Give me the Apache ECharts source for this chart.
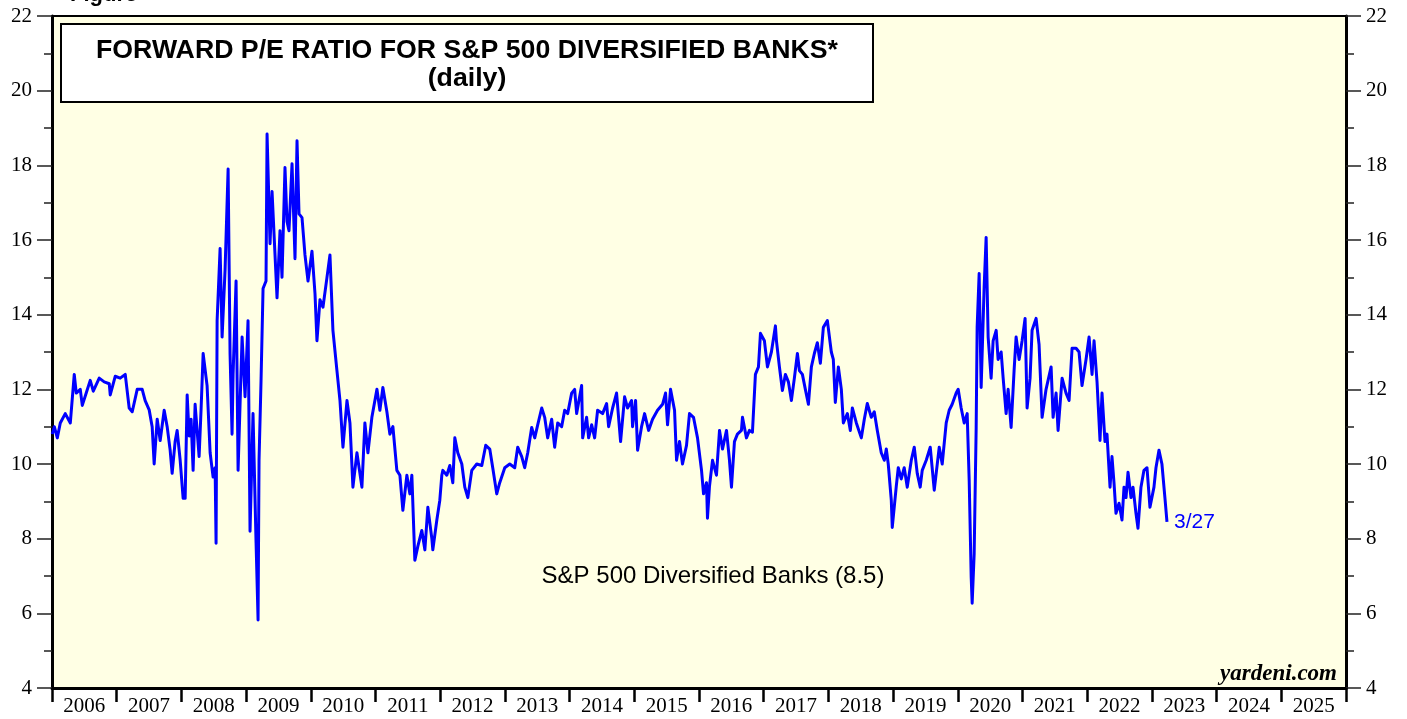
<!DOCTYPE html>
<html><head><meta charset="utf-8">
<script src="https://cdn.jsdelivr.net/npm/echarts@6.0.0/dist/echarts.min.js"></script>
<style>html,body{margin:0;padding:0;background:#fff}#c{width:1407px;height:719px}</style>
</head><body><div id="c"></div>
<script>
const yearLabels = ['2006','2007','2008','2009','2010','2011','2012','2013','2014','2015','2016','2017','2018','2019','2020','2021','2022','2023','2024','2025'];
const titleLine1 = 'FORWARD P/E RATIO FOR S&P 500 DIVERSIFIED BANKS*';
const titleLine2 = '(daily)';
const seriesName = 'S&P 500 Diversified Banks (8.5)';
const lastDateLabel = '3/27';

// decimal year of each observation
const years = [
2006.005,2006.036,2006.082,2006.128,2006.205,2006.283,2006.344,2006.375,2006.437,2006.468,2006.529,2006.591,2006.638,2006.730,2006.807,2006.885,2006.900,2006.977,
2007.054,2007.132,2007.193,2007.240,2007.317,2007.394,2007.440,2007.502,2007.548,2007.579,2007.626,2007.672,2007.734,2007.780,2007.826,2007.857,2007.903,2007.934,2007.981,
2008.027,2008.058,2008.089,2008.120,2008.150,2008.181,2008.212,2008.274,2008.305,2008.336,2008.397,2008.444,2008.490,2008.521,2008.536,2008.552,2008.598,2008.629,2008.675,2008.722,2008.752,2008.783,2008.799,2008.845,2008.876,2008.938,2008.984,
2009.030,2009.061,2009.107,2009.154,2009.185,2009.200,2009.231,2009.262,2009.308,2009.324,2009.370,2009.401,2009.447,2009.478,2009.524,2009.555,2009.601,2009.632,2009.663,2009.710,2009.756,2009.787,2009.818,2009.864,2009.910,2009.957,
2010.018,2010.065,2010.095,2010.142,2010.188,2010.250,2010.296,2010.342,2010.404,2010.451,2010.497,2010.559,2010.605,2010.651,2010.713,2010.790,2010.836,2010.883,2010.944,
2011.022,2011.068,2011.114,2011.176,2011.222,2011.269,2011.330,2011.377,2011.423,2011.485,2011.531,2011.562,2011.608,2011.655,2011.716,2011.763,2011.809,2011.871,2011.886,2011.948,2011.994,
2012.025,2012.041,2012.102,2012.149,2012.195,2012.226,2012.272,2012.334,2012.380,2012.427,2012.488,2012.565,2012.643,2012.704,2012.766,2012.812,2012.874,2012.920,2012.998,
2013.075,2013.152,2013.198,2013.260,2013.306,2013.353,2013.414,2013.461,2013.507,2013.569,2013.615,2013.661,2013.723,2013.769,2013.816,2013.877,2013.924,2013.970,
2014.032,2014.078,2014.109,2014.155,2014.186,2014.202,2014.263,2014.294,2014.341,2014.387,2014.433,2014.510,2014.572,2014.603,2014.665,2014.726,2014.788,2014.850,2014.896,2014.958,2014.973,
2015.020,2015.051,2015.112,2015.159,2015.221,2015.282,2015.359,2015.437,2015.483,2015.514,2015.560,2015.622,2015.653,2015.699,2015.745,2015.807,2015.853,2015.915,2015.977,
2016.039,2016.070,2016.116,2016.131,2016.162,2016.209,2016.270,2016.317,2016.363,2016.425,2016.471,2016.502,2016.548,2016.594,2016.656,2016.672,2016.733,2016.780,2016.826,2016.872,2016.919,2016.950,
2017.011,2017.058,2017.119,2017.181,2017.197,2017.243,2017.289,2017.335,2017.382,2017.428,2017.474,2017.521,2017.552,2017.598,2017.644,2017.691,2017.737,2017.783,2017.829,2017.876,2017.922,2017.984,
2018.045,2018.076,2018.107,2018.154,2018.200,2018.231,2018.293,2018.339,2018.370,2018.432,2018.509,2018.555,2018.601,2018.663,2018.709,2018.756,2018.817,2018.864,2018.895,2018.925,2018.972,2018.987,
2019.049,2019.080,2019.126,2019.172,2019.219,2019.281,2019.327,2019.373,2019.419,2019.450,2019.512,2019.574,2019.636,2019.713,2019.759,2019.821,2019.867,2019.913,2019.975,
2020.006,2020.052,2020.099,2020.145,2020.176,2020.207,2020.222,2020.253,2020.284,2020.299,2020.330,2020.361,2020.407,2020.438,2020.469,2020.515,2020.546,2020.593,2020.623,2020.670,2020.701,2020.747,2020.778,2020.824,2020.870,2020.901,2020.948,2020.994,
2021.040,2021.071,2021.117,2021.148,2021.210,2021.256,2021.303,2021.364,2021.442,2021.473,2021.519,2021.550,2021.612,2021.673,2021.720,2021.766,2021.828,2021.874,2021.920,2021.982,
2022.029,2022.075,2022.106,2022.152,2022.198,2022.229,2022.275,2022.306,2022.353,2022.383,2022.414,2022.445,2022.492,2022.538,2022.569,2022.600,2022.631,2022.677,2022.708,2022.754,2022.785,2022.831,2022.877,2022.924,2022.970,
2023.032,2023.063,2023.109,2023.155,2023.201,2023.233
];

// forward P/E values
const values = [
10.8,11.0,10.7,11.1,11.35,11.1,12.4,11.9,12.0,11.57,11.9,12.24,11.95,12.3,12.2,12.15,11.85,12.35,
12.3,12.4,11.5,11.4,12.0,12.0,11.7,11.45,11.0,10.0,11.2,10.63,11.44,11.0,10.37,9.75,10.6,10.9,10.1,
9.08,9.08,11.85,10.75,11.2,9.83,11.6,10.2,11.5,12.96,12.1,10.3,9.65,9.9,7.88,13.84,15.77,13.4,15.2,17.9,12.96,10.8,12.4,14.9,9.83,13.4,11.8,
13.84,8.2,11.35,7.9,5.82,10.1,12.24,14.7,14.9,18.84,15.9,17.3,15.6,14.45,16.25,15.0,17.94,16.5,16.25,18.04,15.5,18.66,16.7,16.6,15.6,14.9,
15.7,14.56,13.3,14.4,14.2,15.0,15.6,13.58,12.5,11.7,10.45,11.7,11.1,9.38,10.3,9.38,11.1,10.3,11.25,
12.0,11.44,12.05,11.4,10.8,11.0,9.83,9.7,8.76,9.7,9.2,9.7,7.42,7.8,8.22,7.7,8.84,8.0,7.7,8.5,9.03,
9.7,9.83,9.7,9.96,9.5,10.7,10.3,10.0,9.38,9.1,9.83,10.0,9.96,10.5,10.4,9.9,9.2,9.5,9.9,
10.0,9.9,10.45,10.2,9.9,10.3,10.98,10.7,11.05,11.5,11.25,10.7,11.2,10.45,11.1,11.0,11.44,11.35,
11.9,12.0,11.35,11.8,12.1,10.7,11.25,10.7,11.05,10.7,11.44,11.35,11.62,11.0,11.5,11.9,10.6,11.8,11.5,11.7,11.0,
11.7,10.37,11.0,11.35,10.9,11.2,11.44,11.6,11.9,11.05,12.0,11.44,10.1,10.6,10.0,10.5,11.35,11.25,10.7,
9.83,9.2,9.5,8.55,9.4,10.1,9.7,10.9,10.4,10.9,10.1,9.38,10.6,10.8,10.9,11.25,10.7,10.9,10.85,12.4,12.6,13.5,
13.3,12.6,13.0,13.7,13.3,12.6,11.97,12.4,12.2,11.7,12.3,12.96,12.5,12.4,12.0,11.6,12.6,12.96,13.25,12.7,13.66,13.84,
13.0,12.8,11.65,12.6,12.0,11.1,11.35,10.9,11.5,11.1,10.7,11.2,11.62,11.25,11.4,10.9,10.3,10.1,10.4,10.0,9.03,8.3,
9.4,9.9,9.6,9.9,9.38,10.1,10.45,9.75,9.38,9.83,10.1,10.45,9.3,10.45,10.0,11.1,11.44,11.6,11.9,
12.0,11.5,11.1,11.35,9.56,6.97,6.27,7.6,10.98,13.66,15.1,12.05,14.73,16.07,13.4,12.3,13.3,13.58,12.8,13.0,12.3,11.35,12.0,10.98,12.5,13.4,12.8,13.3,
13.9,11.5,12.3,13.58,13.9,13.2,11.25,12.0,12.6,11.25,11.9,10.9,12.3,11.9,11.7,13.1,13.1,13.0,12.1,12.8,
13.4,12.4,13.3,12.2,10.63,11.9,10.6,10.8,9.38,10.2,9.5,8.68,8.95,8.5,9.38,9.1,9.78,9.1,9.38,8.68,8.28,9.38,9.83,9.9,8.84,
9.38,9.9,10.37,10.0,9.1,8.45
];

const yMin = 4, yMax = 22, yStep = 2;

const data = years.map((y, i) => [y, values[i]]);

const chart = echarts.init(document.getElementById('c'), null, {renderer: 'canvas'});
const serif = 'Liberation Serif, Times New Roman, serif';
const sans = 'Liberation Sans, Arial, sans-serif';

const yAxisCommon = {
  type: 'value', min: yMin, max: yMax, interval: yStep,
  axisLine: {show: true, onZero: false, lineStyle: {color: '#000', width: 3}},
  axisTick: {show: true, inside: false, length: 15, lineStyle: {color: '#222', width: 1.5}},
  minorTick: {show: true, splitNumber: 2, length: 8, lineStyle: {color: '#222', width: 1.5}},
  splitLine: {show: false},
  axisLabel: {fontFamily: serif, fontSize: 21, color: '#000', margin: 20}
};

chart.setOption({
  animation: false,
  grid: {left: 52, right: 61, top: 16, bottom: 31, show: true, backgroundColor: '#FFFFE4', borderColor: '#000', borderWidth: 2},
  xAxis: [
    {type: 'value', min: 2006, max: 2026, show: false},
    {type: 'category', data: yearLabels, position: 'bottom', boundaryGap: true,
     axisLine: {show: true, lineStyle: {color: '#000', width: 3}},
     axisTick: {show: true, inside: false, length: 14, interval: 0, lineStyle: {color: '#000', width: 2.5}},
     axisLabel: {interval: 0, fontFamily: serif, fontSize: 21, color: '#000', margin: 8},
     splitLine: {show: false}}
  ],
  yAxis: [
    Object.assign({}, yAxisCommon, {position: 'left'}),
    Object.assign({}, yAxisCommon, {position: 'right'})
  ],
  series: [{
    type: 'line', name: seriesName, xAxisIndex: 0, yAxisIndex: 0, data: data,
    showSymbol: false, symbol: 'none',
    lineStyle: {color: '#0000FF', width: 3, join: 'round'},
    endLabel: {show: true, formatter: lastDateLabel, color: '#0000FF', fontFamily: sans, fontSize: 21, distance: 7}
  }],
  graphic: [
    {type: 'text', left: 70, top: -16, style: {text: 'Figure', font: 'bold 22px ' + sans, fill: '#000'}},
    {type: 'rect', shape: {x: 61, y: 24, width: 812, height: 78}, style: {fill: '#fff', stroke: '#000', lineWidth: 2}, z: 10},
    {type: 'text', x: 467, y: 51, z: 11, style: {text: titleLine1, font: 'bold 26.7px ' + sans, fill: '#000', align: 'center', verticalAlign: 'middle'}},
    {type: 'text', x: 467, y: 79, z: 11, style: {text: titleLine2, font: 'bold 26.7px ' + sans, fill: '#000', align: 'center', verticalAlign: 'middle'}},
    {type: 'text', x: 713, y: 576, z: 11, style: {text: seriesName, font: '24px ' + sans, fill: '#000', align: 'center', verticalAlign: 'middle'}},
    {type: 'text', x: 1337, y: 674, z: 11, style: {text: 'yardeni.com', font: 'italic bold 23px ' + serif, fill: '#000', align: 'right', verticalAlign: 'middle'}}
  ]
});
</script></body></html>
